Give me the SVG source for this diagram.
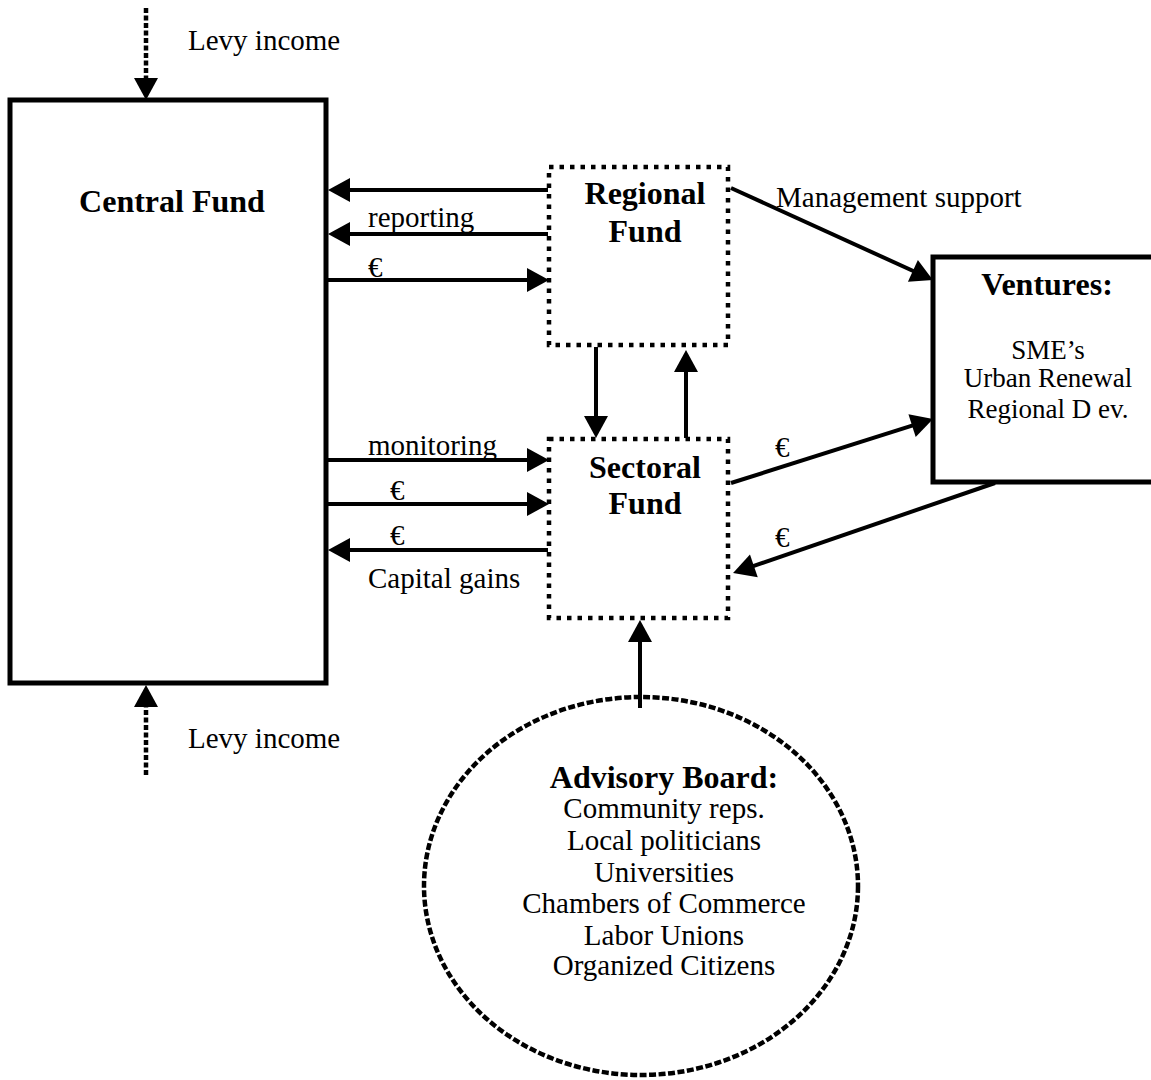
<svg xmlns="http://www.w3.org/2000/svg" width="1151" height="1080" viewBox="0 0 1151 1080">
<style>
  text { font-family: "Liberation Serif", "DejaVu Serif", serif; fill: #000; }
  .r { font-size: 29px; }
  .v { font-size: 27px; text-anchor: middle; }
  .b { font-size: 32px; font-weight: bold; text-anchor: middle; }
  .c { text-anchor: middle; }
  .solid { fill: #fff; stroke: #000; stroke-width: 5; }
  .dotted { fill: none; stroke: #000; stroke-width: 4.5; stroke-dasharray: 4.5 6; }
  .oval { fill: none; stroke: #000; stroke-width: 4.5; stroke-dasharray: 7 2.5; }
  .arr { stroke: #000; stroke-width: 4; fill: none; marker-end: url(#ah); }
  .darr { stroke: #000; stroke-width: 4.5; fill: none; stroke-dasharray: 5 2.5; marker-end: url(#ah); }
</style>
<defs>
  <marker id="ah" markerUnits="userSpaceOnUse" markerWidth="22" markerHeight="24" refX="10" refY="12" orient="auto" overflow="visible">
    <path d="M0,0 L22,12 L0,24 Z" fill="#000"/>
  </marker>
</defs>
<rect width="1151" height="1080" fill="#fff"/>

<g id="central-fund">
  <rect class="solid" x="10" y="100" width="316" height="583"/>
  <text class="b" x="172" y="212">Central Fund</text>
</g>

<g id="regional-fund">
  <rect class="dotted" x="549" y="167" width="179" height="178"/>
  <text class="b" x="645" y="204">Regional</text>
  <text class="b" x="645" y="242">Fund</text>
</g>

<g id="sectoral-fund">
  <rect class="dotted" x="549" y="439" width="179" height="179"/>
  <text class="b" x="645" y="478">Sectoral</text>
  <text class="b" x="645" y="514">Fund</text>
</g>

<g id="ventures">
  <rect class="solid" x="933" y="257" width="240" height="225"/>
  <text class="b" x="1047" y="295">Ventures:</text>
  <text class="v" x="1048" y="359">SME’s</text>
  <text class="v" x="1048" y="387">Urban Renewal</text>
  <text class="v" x="1048" y="418">Regional D ev.</text>
</g>

<g id="advisory-board">
  <ellipse class="oval" cx="641" cy="886" rx="217" ry="189"/>
  <text class="b" x="664" y="788">Advisory Board:</text>
  <text class="r c" x="664" y="818">Community reps.</text>
  <text class="r c" x="664" y="850">Local politicians</text>
  <text class="r c" x="664" y="882">Universities</text>
  <text class="r c" x="664" y="913">Chambers of Commerce</text>
  <text class="r c" x="664" y="945">Labor Unions</text>
  <text class="r c" x="664" y="975">Organized Citizens</text>
</g>

<g id="connectors">
  <line class="darr" x1="146" y1="8" x2="146" y2="88"/>
  <line class="darr" x1="146" y1="775" x2="146" y2="697"/>
  <line class="arr" x1="548" y1="190" x2="340" y2="190"/>
  <line class="arr" x1="548" y1="234" x2="340" y2="234"/>
  <line class="arr" x1="328" y1="280" x2="537" y2="280"/>
  <line class="arr" x1="328" y1="460" x2="537" y2="460"/>
  <line class="arr" x1="328" y1="504" x2="537" y2="504"/>
  <line class="arr" x1="548" y1="550" x2="340" y2="550"/>
  <line class="arr" x1="596" y1="347" x2="596" y2="426"/>
  <line class="arr" x1="686" y1="438" x2="686" y2="362"/>
  <line class="arr" x1="640" y1="708" x2="640" y2="632"/>
  <line class="arr" x1="731" y1="188" x2="922" y2="275"/>
  <line class="arr" x1="731" y1="483" x2="921.6" y2="422.6"/>
  <line class="arr" x1="995" y1="483" x2="744.4" y2="569.1"/>
</g>

<g id="labels">
  <text class="r" x="188" y="50">Levy income</text>
  <text class="r" x="188" y="748">Levy income</text>
  <text class="r" x="368" y="227">reporting</text>
  <text class="r" x="368" y="277">€</text>
  <text class="r" x="368" y="455">monitoring</text>
  <text class="r" x="390" y="500">€</text>
  <text class="r" x="390" y="545">€</text>
  <text class="r" x="368" y="588">Capital gains</text>
  <text class="r" x="776" y="207">Management support</text>
  <text class="r" x="775" y="457">€</text>
  <text class="r" x="775" y="547">€</text>
</g>
</svg>
